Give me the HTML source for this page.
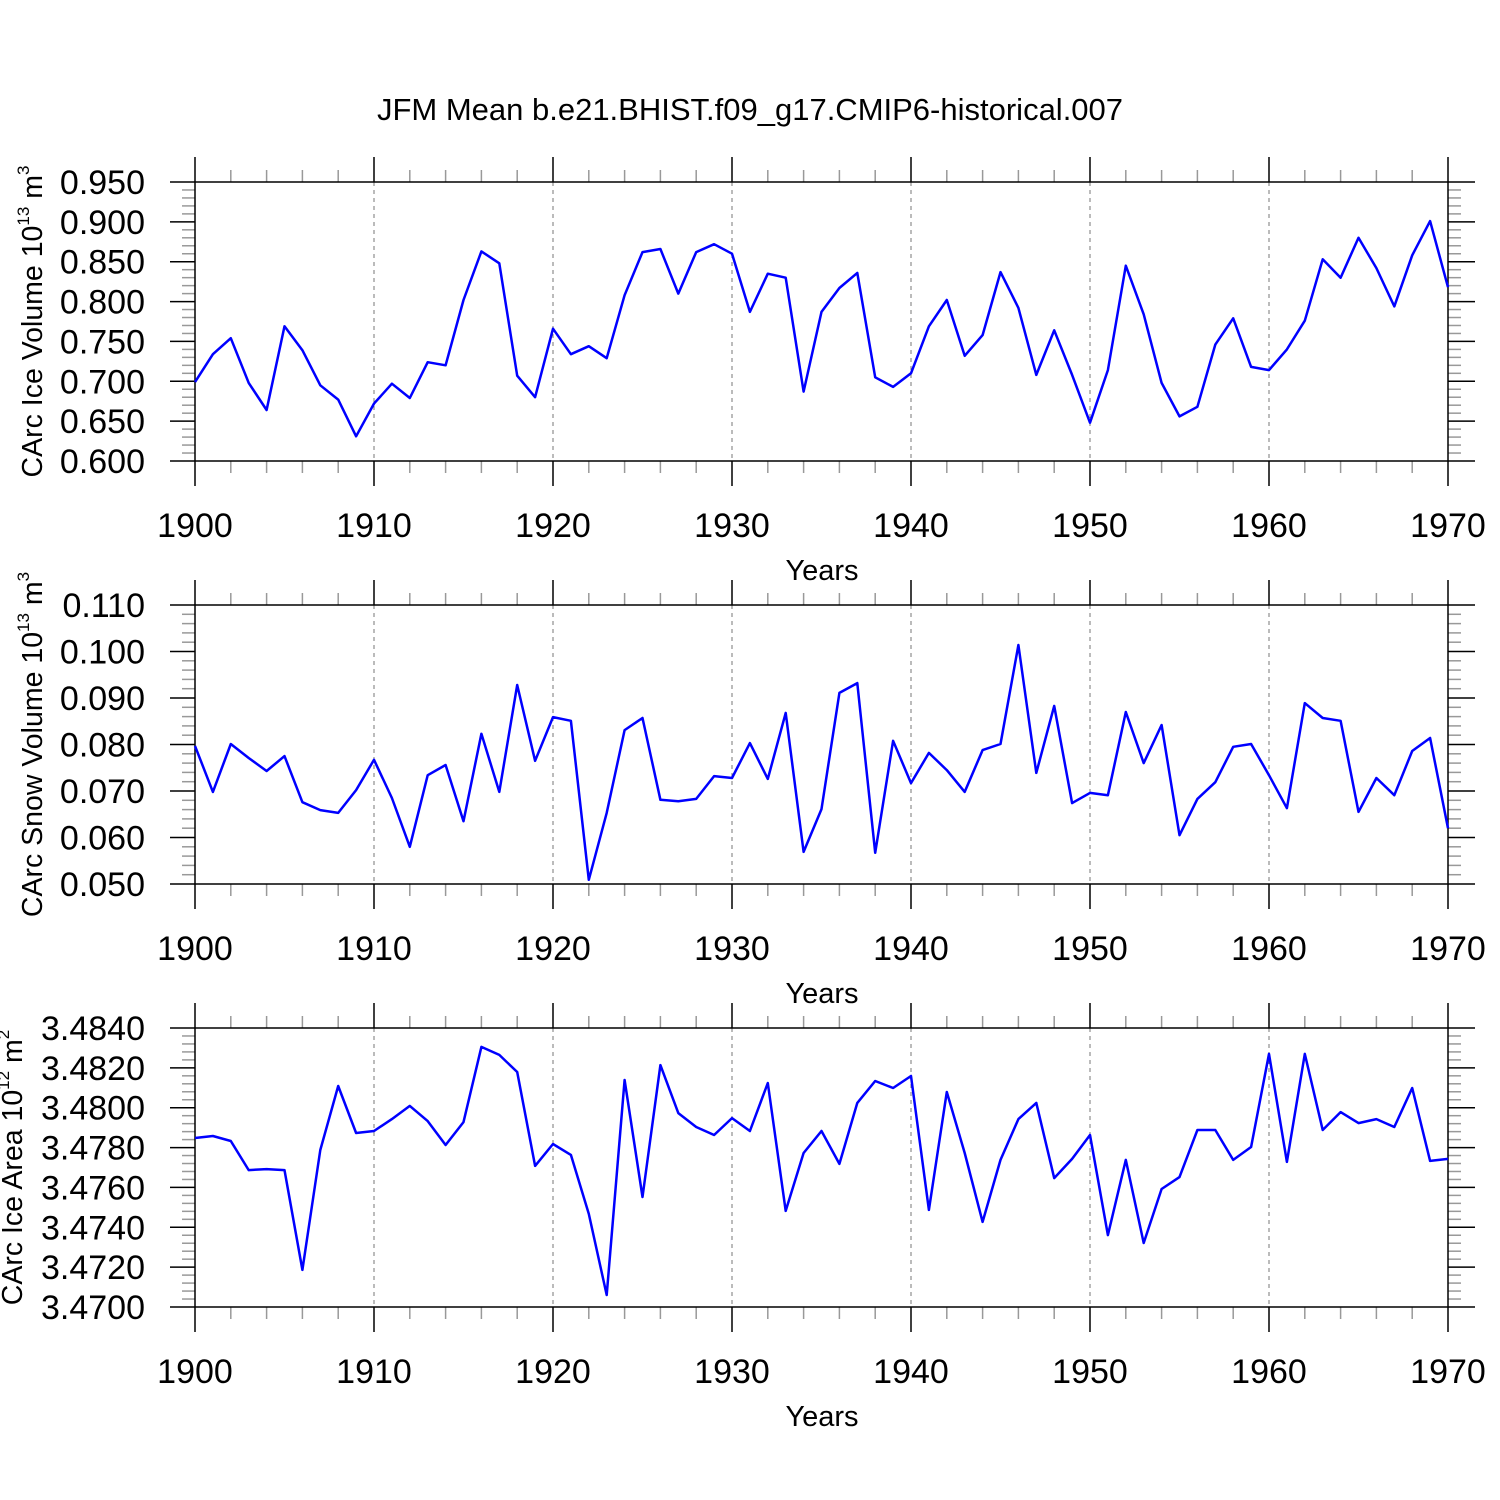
<!DOCTYPE html>
<html><head><meta charset="utf-8"><style>
html,body{margin:0;padding:0;background:#fff}
svg{display:block;font-family:"Liberation Sans",Arial,sans-serif}
</style></head><body>
<svg id="chart" width="1500" height="1500" viewBox="0 0 1500 1500" xmlns="http://www.w3.org/2000/svg">
<rect width="1500" height="1500" fill="#fff"/>
<text x="750" y="120" font-size="31" text-anchor="middle">JFM Mean b.e21.BHIST.f09_g17.CMIP6-historical.007</text>
</svg>
<script>
const years = [];
for (let y = 1900; y <= 1970; y++) years.push(y);
const xTicks = [1900,1910,1920,1930,1940,1950,1960,1970];
const iceVolume = [0.699,0.734,0.754,0.698,0.664,0.769,0.739,0.695,0.677,0.631,0.672,0.697,0.679,0.724,0.720,0.802,0.863,0.848,0.707,0.680,0.766,0.734,0.744,0.729,0.808,0.862,0.866,0.810,0.862,0.872,0.860,0.787,0.835,0.830,0.687,0.787,0.817,0.836,0.705,0.693,0.710,0.769,0.802,0.732,0.758,0.837,0.792,0.708,0.764,0.708,0.648,0.714,0.845,0.784,0.698,0.656,0.668,0.746,0.779,0.718,0.714,0.740,0.776,0.853,0.830,0.880,0.842,0.794,0.858,0.901,0.818];
const snowVolume = [0.0797,0.0698,0.0801,0.0771,0.0743,0.0775,0.0676,0.0659,0.0653,0.0702,0.0767,0.0685,0.0580,0.0734,0.0756,0.0635,0.0823,0.0698,0.0928,0.0765,0.0859,0.0851,0.0509,0.0653,0.0831,0.0857,0.0681,0.0678,0.0683,0.0732,0.0728,0.0803,0.0726,0.0868,0.0569,0.0661,0.0911,0.0932,0.0567,0.0808,0.0717,0.0782,0.0745,0.0698,0.0788,0.0801,0.1014,0.0739,0.0883,0.0674,0.0696,0.0691,0.0870,0.0760,0.0842,0.0605,0.0683,0.0719,0.0795,0.0801,0.0734,0.0663,0.0889,0.0857,0.0851,0.0655,0.0728,0.0691,0.0786,0.0814,0.0620];
const iceArea = [3.47848,3.47858,3.47833,3.47687,3.47692,3.47687,3.47186,3.47788,3.48109,3.47873,3.47883,3.47943,3.48009,3.47933,3.47813,3.47928,3.48305,3.48265,3.48179,3.47708,3.47818,3.47763,3.47467,3.47060,3.48139,3.47552,3.48214,3.47973,3.47903,3.47863,3.47948,3.47883,3.48124,3.47482,3.47773,3.47883,3.47718,3.48024,3.48134,3.48099,3.48159,3.47487,3.48079,3.47773,3.47427,3.47738,3.47943,3.48024,3.47647,3.47743,3.47863,3.47361,3.47738,3.47321,3.47592,3.47652,3.47888,3.47888,3.47738,3.47803,3.48270,3.47728,3.48270,3.47888,3.47978,3.47923,3.47943,3.47903,3.48099,3.47733,3.47743];
const yTicks1 = ["0.600","0.650","0.700","0.750","0.800","0.850","0.900","0.950"];
const yTicks2 = ["0.050","0.060","0.070","0.080","0.090","0.100","0.110"];
const yTicks3 = ["3.4700","3.4720","3.4740","3.4760","3.4780","3.4800","3.4820","3.4840"];

const NS = "http://www.w3.org/2000/svg";
const svg = document.getElementById("chart");
const X0 = 195, X1 = 1448;
function xScale(yr){ return X0 + (yr-1900)/70*(X1-X0); }
function mk(tag, attrs, parent){ const e = document.createElementNS(NS, tag); for (const k in attrs) e.setAttribute(k, attrs[k]); (parent||svg).appendChild(e); return e; }

function panel(key, top, bot, vmin, vmax, ticks, nMinor, values, titleParts, titleX){
  const g = mk("g", {});
  
  
  const yScale = v => bot - (v - vmin)/(vmax - vmin)*(bot - top);
  xTicks.slice(1, -1).forEach(t => {
    const l = mk("line", {x1:xScale(t), x2:xScale(t), y1:top, y2:bot, stroke:"#777", "stroke-width":1, "stroke-dasharray":"4,4"}, g);
    
    
  });
  for (let yr = 1900; yr <= 1970; yr += 2) {
    const major = (yr % 10 === 0);
    const len = major ? 25 : 12;
    const x = xScale(yr);
    mk("line", {x1:x, x2:x, y1:top-len, y2:top, stroke:major?"#000":"#999", "stroke-width":1.5}, g);
    mk("line", {x1:x, x2:x, y1:bot, y2:bot+len, stroke:major?"#000":"#999", "stroke-width":1.5}, g);
  }
  xTicks.forEach(t => {
    const tx = mk("text", {x:xScale(t), y:bot+76, "font-size":34, "text-anchor":"middle"}, g);
    tx.textContent = t;
    
    
  });
  for (let i = 0; i < ticks.length; i++) {
    const v = parseFloat(ticks[i]);
    const y = yScale(v);
    mk("line", {x1:170, x2:X0, y1:y, y2:y, stroke:"#000", "stroke-width":1.5}, g);
    mk("line", {x1:X1, x2:1475, y1:y, y2:y, stroke:"#000", "stroke-width":1.5}, g);
    const tx = mk("text", {x:145, y:y+12, "font-size":34, "text-anchor":"end"}, g);
    tx.textContent = ticks[i];
    
    
    if (i < ticks.length - 1) {
      const step = (parseFloat(ticks[i+1]) - v)/nMinor;
      for (let k = 1; k < nMinor; k++) {
        const ym = yScale(v + k*step);
        mk("line", {x1:182, x2:X0, y1:ym, y2:ym, stroke:"#999", "stroke-width":1.5}, g);
        mk("line", {x1:X1, x2:1461, y1:ym, y2:ym, stroke:"#999", "stroke-width":1.5}, g);
      }
    }
  }
  const fr = mk("rect", {x:X0, y:top, width:X1-X0, height:bot-top, fill:"none", stroke:"#000", "stroke-width":1.5}, g);
  
  
  const pts = values.map((v,i) => xScale(years[i]).toFixed(1) + "," + yScale(v).toFixed(1)).join(" ");
  const pl = mk("polyline", {points:pts, fill:"none", stroke:"#0000ff", "stroke-width":2.5, "stroke-linejoin":"round"}, g);
  
  
  const xt = mk("text", {x:822, y:bot+119, "font-size":29, "text-anchor":"middle"}, g);
  xt.textContent = "Years";
  
  
  const cy = (top+bot)/2;
  const yt = mk("text", {x:0, y:0, "font-size":28.5, "text-anchor":"middle", transform:"translate(" + titleX + "," + cy + ") rotate(-90)"}, g);
  
  
  const t1 = mk("tspan", {}, yt); t1.textContent = titleParts[0];
  const t2 = mk("tspan", {dy:-13, "font-size":17}, yt); t2.textContent = titleParts[1];
  const t3 = mk("tspan", {dy:13}, yt); t3.textContent = " " + titleParts[2];
  const t4 = mk("tspan", {dy:-13, "font-size":17}, yt); t4.textContent = titleParts[3];
}
panel("ice-volume", 182, 461, 0.6, 0.95, yTicks1, 5, iceVolume, ["CArc Ice Volume 10","13","m","3"], 42);
panel("snow-volume", 605, 884, 0.05, 0.11, yTicks2, 5, snowVolume, ["CArc Snow Volume 10","13","m","3"], 42);
panel("ice-area", 1028, 1307, 3.47, 3.484, yTicks3, 5, iceArea, ["CArc Ice Area 10","12","m","2"], 22);
</script>
</body></html>
